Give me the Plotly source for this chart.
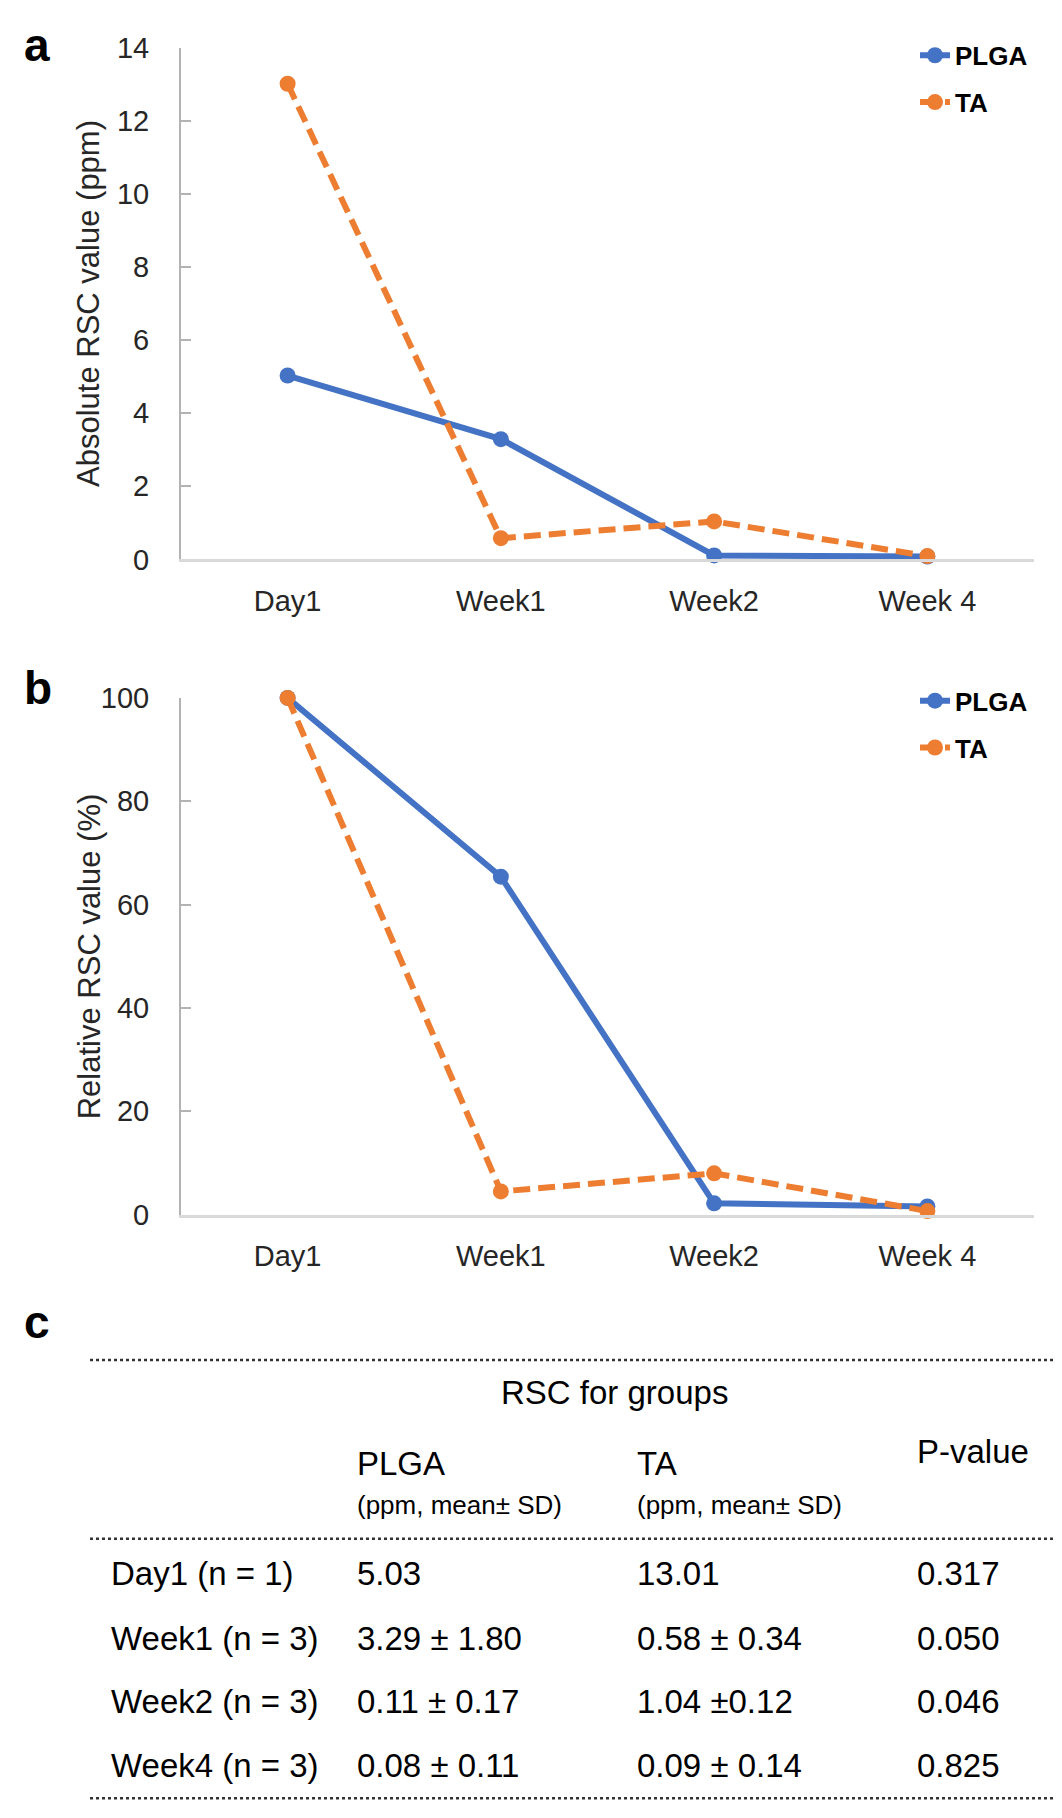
import plotly.graph_objects as go

W, H = 1062, 1818

# ---------------- data ----------------
categories = ["Day1", "Week1", "Week2", "Week 4"]
plga_abs = [5.03, 3.29, 0.11, 0.08]
ta_abs = [13.01, 0.58, 1.04, 0.09]
plga_rel = [100, 65.4, 2.2, 1.6]
ta_rel = [100, 4.5, 8.0, 0.7]

table_rows = ["Day1 (n = 1)", "Week1 (n = 3)", "Week2 (n = 3)", "Week4 (n = 3)"]
table_plga = ["5.03", "3.29 ± 1.80", "0.11 ± 0.17", "0.08 ± 0.11"]
table_ta = ["13.01", "0.58 ± 0.34", "1.04 ±0.12", "0.09 ± 0.14"]
table_p = ["0.317", "0.050", "0.046", "0.825"]

BLUE = "#4472C4"
ORANGE = "#ED7D31"
FONT = "Liberation Sans"


def px(x):
    return x / W


def py(y):
    return 1 - y / H


fig = go.Figure()

DASH = "17px,8px"
LW = 6
MS = 16
# panel a
fig.add_trace(go.Scatter(x=categories, y=plga_abs, name="<b>PLGA</b>", mode="lines+markers",
                         line=dict(color=BLUE, width=LW), marker=dict(size=MS, color=BLUE),
                         xaxis="x", yaxis="y", legend="legend", legendgroup="a1",
                         cliponaxis=False))
fig.add_trace(go.Scatter(x=categories, y=ta_abs, name="<b>TA</b>", mode="lines+markers",
                         line=dict(color=ORANGE, width=LW, dash=DASH),
                         marker=dict(size=MS, color=ORANGE),
                         xaxis="x", yaxis="y", legend="legend", legendgroup="a2",
                         cliponaxis=False))
# panel b
fig.add_trace(go.Scatter(x=categories, y=plga_rel, name="<b>PLGA</b>", mode="lines+markers",
                         line=dict(color=BLUE, width=LW), marker=dict(size=MS, color=BLUE),
                         xaxis="x2", yaxis="y2", legend="legend2", legendgroup="b1",
                         cliponaxis=False))
fig.add_trace(go.Scatter(x=categories, y=ta_rel, name="<b>TA</b>", mode="lines+markers",
                         line=dict(color=ORANGE, width=LW, dash=DASH),
                         marker=dict(size=MS, color=ORANGE),
                         xaxis="x2", yaxis="y2", legend="legend2", legendgroup="b2",
                         cliponaxis=False))

xdom = [px(173), px(1026)]
xcommon = dict(domain=xdom, type="category", range=[-0.5, 3.5], showgrid=False,
               showline=True, linecolor="#d9d9d9", linewidth=2.5, ticks="",
               tickfont=dict(family=FONT, size=29, color="#262626"),
               ticklabelstandoff=14, zeroline=False, fixedrange=True)
ycommon = dict(showgrid=False, showline=True, linecolor="#b3b3b3", linewidth=2,
               ticks="inside", ticklen=10, tickcolor="#b3b3b3", tickwidth=1.5,
               tickfont=dict(family=FONT, size=29, color="#262626"),
               ticklabelstandoff=24, zeroline=False, fixedrange=True)

legcommon = dict(font=dict(family=FONT, size=26, color="#000000"), bgcolor="rgba(0,0,0,0)",
                 borderwidth=0, xanchor="left", yanchor="top", tracegroupgap=10,
                 itemwidth=30, traceorder="grouped")

fig.update_layout(
    width=W, height=H, margin=dict(l=0, r=0, t=0, b=0),
    paper_bgcolor="white", plot_bgcolor="white",
    font=dict(family=FONT, color="#000000"),
    showlegend=True,
    xaxis=dict(**xcommon, anchor="y"),
    yaxis=dict(**ycommon, domain=[py(545), py(24)], range=[0, 14], dtick=2, anchor="x"),
    xaxis2=dict(**xcommon, anchor="y2"),
    yaxis2=dict(**ycommon, domain=[py(1212), py(686)], range=[0, 100], dtick=20, anchor="x2"),
    legend=dict(**legcommon, x=px(907), y=py(8)),
    legend2=dict(**legcommon, x=px(907), y=py(665)),
)


def note(text, x, y, size, xanchor="left", color="#000000", angle=0, bold=False):
    return dict(text=f"<b>{text}</b>" if bold else text, xref="paper", yref="paper",
                x=px(x), y=py(y), xanchor=xanchor, yanchor="middle", textangle=angle,
                showarrow=False, font=dict(family=FONT, size=size, color=color))


ann = []
# panel letters
for letter, yy in [("a", 21), ("b", 676), ("c", 1321)]:
    ann.append(note(letter, 14, yy, 46, bold=True))
# axis titles
ann.append(note("Absolute RSC value (ppm)", 81, 285, 31, xanchor="center", color="#262626", angle=-90))
ann.append(note("Relative RSC value (%)", 81, 949, 31, xanchor="center", color="#262626", angle=-90))

# table
TF = 33
col_x = [101, 347, 627, 907]
ann.append(note("RSC for groups", 606, 1393, TF, xanchor="center"))
ann.append(note("PLGA", col_x[1], 1465, TF))
ann.append(note("TA", col_x[2], 1465, TF))
for cx in (col_x[1], col_x[2]):
    ann.append(note("(ppm, mean± SD)", cx, 1508, 26))
ann.append(note("P-value", col_x[3], 1453, TF))

row_y = [1577, 1643, 1708, 1773]
for i, ry in enumerate(row_y):
    for cx, txt in zip(col_x, [table_rows[i], table_plga[i], table_ta[i], table_p[i]]):
        ann.append(note(txt, cx, ry, TF))

shapes = []
for ly in (1360, 1542, 1806):
    shapes.append(dict(type="line", xref="paper", yref="paper", x0=px(82), x1=px(1058),
                       y0=py(ly), y1=py(ly), line=dict(color="#333333", width=2.5, dash="dot")))

fig.update_layout(annotations=ann, shapes=shapes)

fig.write_html("out.html")
